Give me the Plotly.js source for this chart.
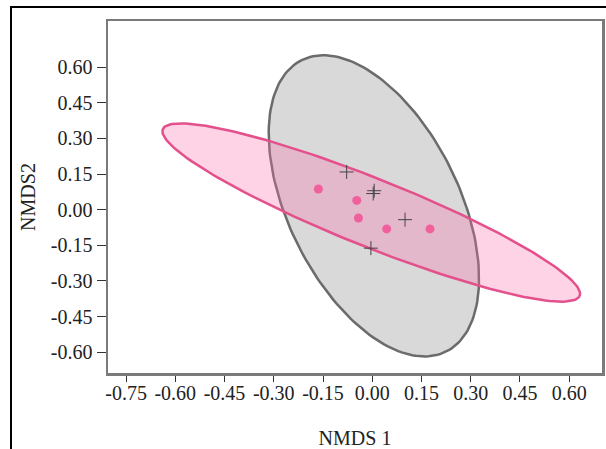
<!DOCTYPE html>
<html>
<head>
<meta charset="utf-8">
<script src="https://cdn.plot.ly/plotly-3.0.1.min.js"></script>
<style>
  html, body { margin: 0; padding: 0; background: #fff; overflow: hidden; }
  #frame { position: absolute; left: 10px; top: 6px; width: 640px; height: 480px; border: 2px solid #000; box-sizing: border-box; }
  #chart { position: absolute; left: 0; top: 0; width: 606px; height: 449px; }
</style>
</head>
<body>
<div id="frame"></div>
<div id="chart"></div>
<script>
// Group A (pink dots)
const pinkX = [-0.164, -0.047, -0.042, 0.044, 0.176];
const pinkY = [0.087, 0.039, -0.035, -0.081, -0.081];
// Group B (black crosses)
const crossX = [-0.078, 0.006, 0.003, 0.100, -0.004];
const crossY = [0.159, 0.080, 0.068, -0.042, -0.162];

// Ellipses: center, semi-axis vector 1, semi-axis vector 2 (data units)
const pinkEllCenter = [-0.003, -0.012];
const pinkEllAxis1 = [0.635, -0.351];
const pinkEllAxis2 = [0.0384, 0.133];
const grayEllCenter = [0.005, 0.016];
const grayEllAxis1 = [-0.220, 0.614];
const grayEllAxis2 = [0.233, 0.160];

// Tick labels
const xTickVals = [-0.75, -0.60, -0.45, -0.30, -0.15, 0.00, 0.15, 0.30, 0.45, 0.60];
const xTickText = ["-0.75", "-0.60", "-0.45", "-0.30", "-0.15", "0.00", "0.15", "0.30", "0.45", "0.60"];
const yTickVals = [-0.60, -0.45, -0.30, -0.15, 0.00, 0.15, 0.30, 0.45, 0.60];
const yTickText = ["-0.60", "-0.45", "-0.30", "-0.15", "0.00", "0.15", "0.30", "0.45", "0.60"];

function ellipsePts(c, a1, a2) {
  const xs = [], ys = [];
  const n = 180;
  for (let i = 0; i <= n; i++) {
    const t = 2 * Math.PI * i / n;
    xs.push(c[0] + Math.cos(t) * a1[0] + Math.sin(t) * a2[0]);
    ys.push(c[1] + Math.cos(t) * a1[1] + Math.sin(t) * a2[1]);
  }
  return {x: xs, y: ys};
}

const gE = ellipsePts(grayEllCenter, grayEllAxis1, grayEllAxis2);
const pE = ellipsePts(pinkEllCenter, pinkEllAxis1, pinkEllAxis2);

const traces = [
  {x: gE.x, y: gE.y, type: 'scatter', mode: 'lines', fill: 'toself',
   fillcolor: 'rgba(128,128,128,0.30)', line: {color: '#6b6b6b', width: 2.5}, hoverinfo: 'skip', showlegend: false},
  {x: pE.x, y: pE.y, type: 'scatter', mode: 'lines', fill: 'toself',
   fillcolor: 'rgba(250,110,170,0.30)', line: {color: '#e4508c', width: 2.5}, hoverinfo: 'skip', showlegend: false},
  {x: pinkX, y: pinkY, type: 'scatter', mode: 'markers',
   marker: {color: '#f0609c', size: 9, symbol: 'circle'}, showlegend: false},
  {x: crossX, y: crossY, type: 'scatter', mode: 'markers',
   marker: {color: '#444', size: 10, symbol: 'cross-thin-open', line: {color: '#444', width: 1}}, showlegend: false}
];

const fontFam = '"Liberation Serif", "Times New Roman", serif';
const layout = {
  width: 606, height: 449,
  margin: {l: 108, r: 4, t: 21, b: 76},
  paper_bgcolor: 'rgba(0,0,0,0)',
  plot_bgcolor: '#fff',
  font: {family: fontFam, size: 20, color: '#222'},
  showlegend: false,
  xaxis: {
    range: [-0.805, 0.700], tickvals: xTickVals, ticktext: xTickText,
    ticks: 'outside', ticklen: 6, tickcolor: '#333', tickwidth: 1,
    ticklabelstandoff: -6,
    showline: true, linecolor: '#7a7a7a', linewidth: 2.5, mirror: true,
    showgrid: false, zeroline: false, automargin: false,
    tickfont: {family: fontFam, size: 20, color: '#222'},
    title: {text: 'NMDS 1', font: {family: fontFam, size: 20, color: '#222'}}
  },
  yaxis: {
    range: [-0.688, 0.795], tickvals: yTickVals, ticktext: yTickText,
    ticks: 'outside', ticklen: 9, tickcolor: '#333', tickwidth: 1,
    showline: true, linecolor: '#7a7a7a', linewidth: 2.5, mirror: true,
    showgrid: false, zeroline: false,
    tickfont: {family: fontFam, size: 20, color: '#222'},
    title: {text: 'NMDS2', font: {family: fontFam, size: 20, color: '#222'}, standoff: 10}
  }
};

Plotly.newPlot('chart', traces, layout, {displayModeBar: false, staticPlot: true});
</script>
</body>
</html>
